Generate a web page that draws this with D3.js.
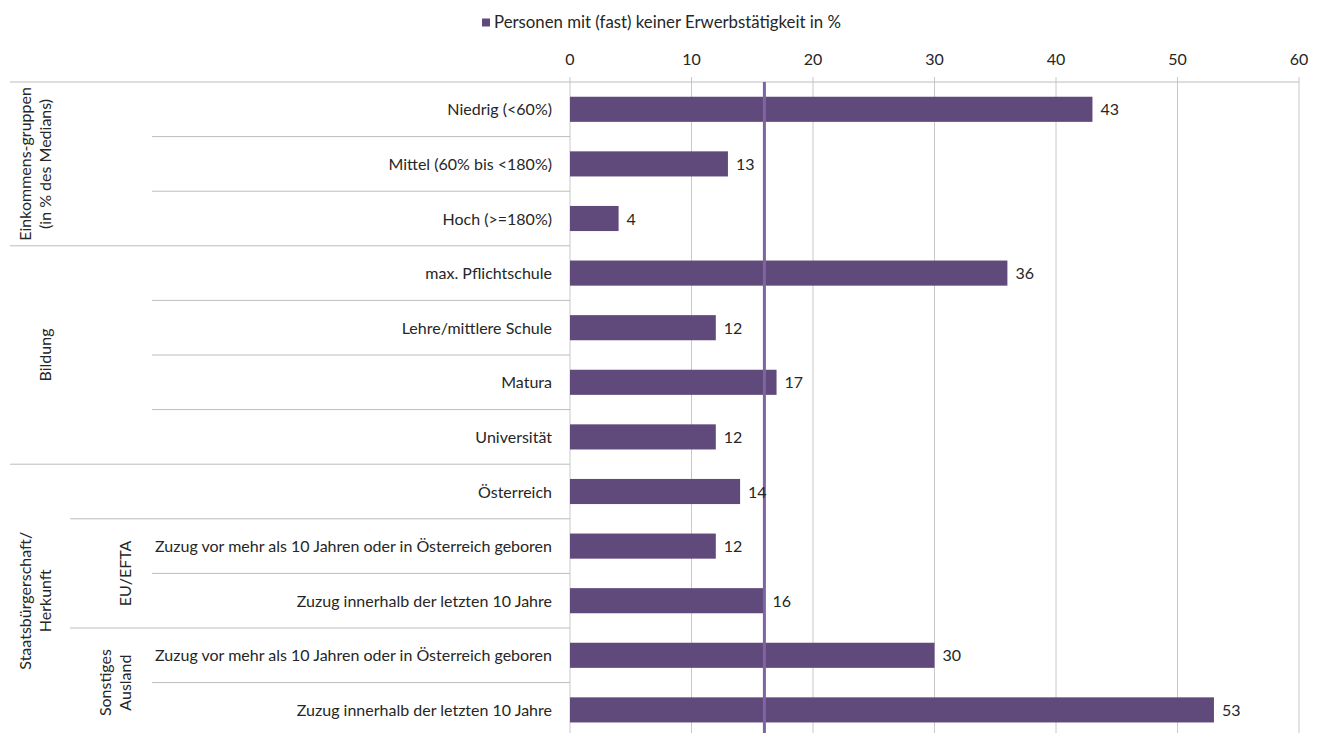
<!DOCTYPE html>
<html><head><meta charset="utf-8">
<script src="https://cdn.jsdelivr.net/npm/d3@7"></script>
<style>body{margin:0;background:#fff}svg{display:block}text{font-family:Lato,"Open Sans",sans-serif;fill:#262626}</style>
</head><body><svg id="c" width="1320" height="733"></svg>
<script>
const categories = ["Niedrig (<60%)","Mittel (60% bis <180%)","Hoch (>=180%)","max. Pflichtschule","Lehre/mittlere Schule","Matura","Universität","Österreich","Zuzug vor mehr als 10 Jahren oder in Österreich geboren","Zuzug innerhalb der letzten 10 Jahre","Zuzug vor mehr als 10 Jahren oder in Österreich geboren","Zuzug innerhalb der letzten 10 Jahre"];
const values = [43,13,4,36,12,17,12,14,12,16,30,53];
const seriesName = "Personen mit (fast) keiner Erwerbstätigkeit in %";
const referenceValue = 16;
const xTicks = [0,10,20,30,40,50,60];
// outer groups: label lines, first row index, last row index
const groupLabels = [["Einkommens-gruppen","(in % des Medians)"],["Bildung"],["Staatsbürgerschaft/","Herkunft"]];
const groupStart = [0,3,7];
const groupEnd = [2,6,11];
// subgroups
const subLabels = [["EU/EFTA"],["Sonstiges","Ausland"]];
const subStart = [8,10];
const subEnd = [9,11];

const svg = d3.select("#c");
const FS = 16;
const x0 = 570, x1 = 1299, plotTop = 82, step = 54.6;
const x = d3.scaleLinear().domain([0,60]).range([x0,x1]);
const y = d3.scaleBand().domain(d3.range(categories.length)).range([plotTop, plotTop+step*categories.length]).paddingInner(0.54).paddingOuter(0.27);
const rowTop = i => plotTop + step*i;

// legend
const lg = svg.append("g");
lg.append("rect").attr("x",482).attr("y",18.5).attr("width",8).attr("height",8).attr("fill","#604A7B");
lg.append("text").attr("x",494).attr("y",28).attr("font-size",16.8).text(seriesName);

// gridlines
svg.append("g").selectAll("line").data(xTicks).join("line")
  .attr("x1",d=>x(d)).attr("x2",d=>x(d)).attr("y1",plotTop-5).attr("y2",733)
  .attr("stroke","#c8c8c8").attr("stroke-width",1);
// axis line
svg.append("line").attr("x1",10).attr("x2",x1).attr("y1",plotTop).attr("y2",plotTop).attr("stroke","#bdbdbd");
// tick labels
svg.append("g").selectAll("text").data(xTicks).join("text")
  .attr("x",d=>x(d)).attr("y",65).attr("text-anchor","middle").attr("font-size",FS).text(d=>d);

// row separator lines
const rowLines = d3.range(1, categories.length+1).map(i=>{
  let xs = 152;
  if (groupStart.includes(i) || i===categories.length) xs = 10;
  else if (subStart.includes(i)) xs = 70;
  return {i, xs};
});
svg.append("g").selectAll("line").data(rowLines).join("line")
  .attr("x1",d=>d.xs).attr("x2",x0).attr("y1",d=>rowTop(d.i)).attr("y2",d=>rowTop(d.i))
  .attr("stroke","#bdbdbd");

// bars
svg.append("g").selectAll("rect").data(values).join("rect")
  .attr("x",x(0)).attr("y",(d,i)=>y(i)).attr("width",d=>x(d)-x(0)).attr("height",y.bandwidth())
  .attr("fill","#604A7B");

// reference line
svg.append("line").attr("x1",x(referenceValue)).attr("x2",x(referenceValue)).attr("y1",plotTop).attr("y2",733)
  .attr("stroke","#8064A2").attr("stroke-width",3);

// value labels
svg.append("g").selectAll("text").data(values).join("text")
  .attr("x",d=>x(d)+8).attr("y",(d,i)=>y(i)+y.bandwidth()/2+6).attr("font-size",FS).text(d=>d);

// category labels
svg.append("g").selectAll("text").data(categories).join("text")
  .attr("x",552).attr("y",(d,i)=>y(i)+y.bandwidth()/2+6).attr("text-anchor","end").attr("font-size",FS).text(d=>d);

// group labels (rotated)
function rotLabel(lines, cx, cy){
  const g = svg.append("g").attr("transform",`translate(${cx},${cy}) rotate(-90)`);
  const lh = 20, off = -(lines.length-1)*lh/2;
  lines.forEach((l,k)=>g.append("text").attr("x",0).attr("y",off+k*lh+6).attr("text-anchor","middle").attr("font-size",FS).text(l));
}
groupLabels.forEach((l,k)=>rotLabel(l, 35 + (l.length===1?10:0), (rowTop(groupStart[k])+rowTop(groupEnd[k]+1))/2));
subLabels.forEach((l,k)=>rotLabel(l, l.length===1?125:115, (rowTop(subStart[k])+rowTop(subEnd[k]+1))/2));
</script></body></html>
